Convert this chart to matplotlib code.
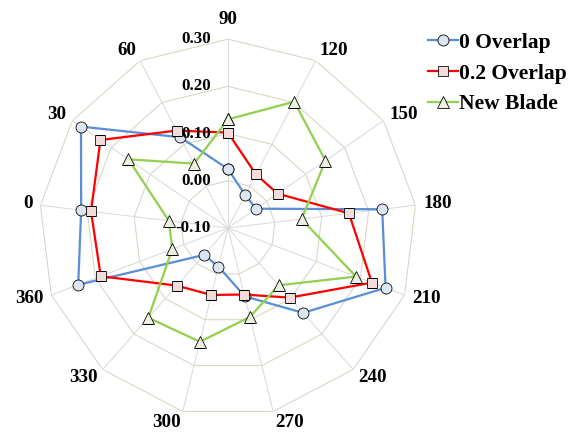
import numpy as np
import matplotlib
matplotlib.use("Agg")
import matplotlib.pyplot as plt

# Categories, clockwise from the top spoke
categories = ["90", "120", "150", "180", "210", "240", "270",
              "300", "330", "360", "0", "30", "60"]

overlap_0 = [0.025, -0.021, -0.028, 0.229, 0.257, 0.140, 0.049,
             -0.016, -0.024, 0.239, 0.213, 0.278, 0.117]
overlap_02 = [0.102, 0.028, 0.028, 0.158, 0.226, 0.097, 0.045,
              0.046, 0.063, 0.188, 0.192, 0.228, 0.133]
new_blade = [0.130, 0.202, 0.151, 0.057, 0.190, 0.062, 0.094,
             0.148, 0.154, 0.026, 0.026, 0.156, 0.054]

ring_values = [-0.10, 0.00, 0.10, 0.20, 0.30]
ring_labels = ["-0.10", "0.00", "0.10", "0.20", "0.30"]

rmin, rmax = -0.10, 0.30
serif = ["Liberation Serif", "DejaVu Serif"]

fig = plt.figure(figsize=(8, 6), dpi=72)
ax = fig.add_axes([0.0677, 0.0347, 0.656, 0.875], projection="polar")
ax.set_theta_zero_location("N")
ax.set_theta_direction(-1)
ax.set_ylim(rmin, rmax)
ax.grid(False)
ax.spines["polar"].set_visible(False)
ax.set_xticks([])
ax.set_yticks([])

n = len(categories)
theta = np.linspace(0, 2 * np.pi, n, endpoint=False)
theta_closed = np.append(theta, theta[0])

# polygon rings
for rv in ring_values[1:]:
    ax.plot(theta_closed, [rv] * (n + 1), color="#d8d2bf", lw=1.0, zorder=1)
# spokes
for t in theta:
    ax.plot([t, t], [rmin, rmax], color="#d9d9d9", lw=1.0, zorder=1)

series = [
    ("0 Overlap", overlap_0, "#5a8fd6", "o", "#dce6f2", 11),
    ("0.2 Overlap", overlap_02, "#ff0000", "s", "#f2dcdb", 10),
    ("New Blade", new_blade, "#92d050", "^", "#ebf1de", 12),
]
for name, vals, col, mk, fc, ms in series:
    v = np.append(vals, vals[0])
    ax.plot(theta_closed, v, color=col, lw=2.25, marker=mk, markersize=ms,
            markerfacecolor=fc, markeredgecolor="black", markeredgewidth=0.8,
            label=name, zorder=3)

# category labels just outside each outer vertex
for t, lab in zip(theta, categories):
    s, c = np.sin(t), np.cos(t)
    if abs(s) < 0.05:
        ha, dx, dy = "center", 0.0, 20.0 * np.sign(c)
    else:
        ha = "left" if s > 0 else "right"
        dx, dy = 8.0 * s, 11.0 * c
    ax.annotate(lab, xy=(t, rmax), xytext=(dx, dy), textcoords="offset points",
                ha=ha, va="center", fontsize=19, fontweight="bold",
                family=serif, annotation_clip=False)

# radial value labels along the top spoke
for rv, lab in zip(ring_values, ring_labels):
    ax.annotate(lab, xy=(0, rv), xytext=(-17, 0), textcoords="offset points",
                ha="right", va="center", fontsize=17, fontweight="bold",
                family=serif, zorder=4)

leg = fig.legend(loc="upper left", bbox_to_anchor=(0.735, 0.934),
                 frameon=False, handlelength=1.4, handletextpad=0.05,
                 labelspacing=0.5, borderaxespad=0, borderpad=0.2,
                 prop={"family": serif, "weight": "bold", "size": 21.5})

fig.savefig("out.png", dpi=72)
